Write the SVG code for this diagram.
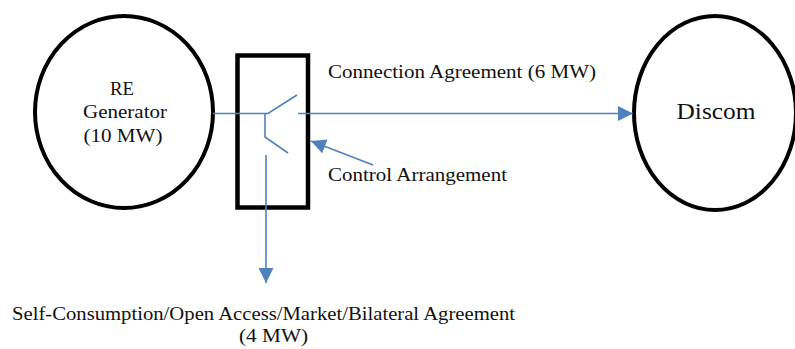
<svg xmlns="http://www.w3.org/2000/svg" width="795" height="349" viewBox="0 0 795 349">
<style>
.node{fill:#fff;stroke:#000;stroke-width:4}
.box{fill:none;stroke:#000;stroke-width:4.5}
.wire{fill:none;stroke:#4F81BD;stroke-width:1.6}
.t{font-family:"Liberation Serif","Times New Roman",serif;fill:#111}
</style>
<defs>
<marker id="ah" markerUnits="userSpaceOnUse" markerWidth="16" markerHeight="15" refX="15" refY="7.5" orient="auto">
<path d="M0,0 L15,7.5 L0,15 z" fill="#4F81BD"/>
</marker>
</defs>
<g id="re-generator">
<ellipse class="node" cx="124" cy="112" rx="89" ry="96"/>
<text class="t" x="122" y="95" font-size="18" text-anchor="middle" textLength="24" lengthAdjust="spacingAndGlyphs">RE</text>
<text class="t" x="125" y="118" font-size="18" text-anchor="middle" textLength="84" lengthAdjust="spacingAndGlyphs">Generator</text>
<text class="t" x="123" y="142" font-size="18" text-anchor="middle" textLength="79" lengthAdjust="spacingAndGlyphs">(10 MW)</text>
</g>
<g id="discom">
<ellipse class="node" cx="715" cy="113" rx="81" ry="97"/>
<text class="t" x="716" y="119" font-size="23" text-anchor="middle" textLength="79" lengthAdjust="spacingAndGlyphs">Discom</text>
</g>
<g id="control-box">
<rect class="box" x="237.5" y="55.5" width="70.5" height="152"/>
</g>
<g id="connectors">
<polyline class="wire" points="213,113.5 268,113.5 297,95"/>
<polyline class="wire" points="265,113.5 265,137 288,153"/>
<line class="wire" x1="298" y1="113.5" x2="633" y2="113.5" marker-end="url(#ah)"/>
<line class="wire" x1="266" y1="155" x2="266" y2="283" marker-end="url(#ah)"/>
<line class="wire" x1="373" y1="165" x2="311" y2="141" marker-end="url(#ah)"/>
</g>
<g id="labels">
<text class="t" x="328" y="78" font-size="19" textLength="268" lengthAdjust="spacingAndGlyphs">Connection Agreement (6 MW)</text>
<text class="t" x="328" y="181" font-size="19" textLength="179" lengthAdjust="spacingAndGlyphs">Control Arrangement</text>
<text class="t" x="12" y="320" font-size="19" textLength="503" lengthAdjust="spacingAndGlyphs">Self-Consumption/Open Access/Market/Bilateral Agreement</text>
<text class="t" x="239" y="342" font-size="19" textLength="69" lengthAdjust="spacingAndGlyphs">(4 MW)</text>
</g>
</svg>
